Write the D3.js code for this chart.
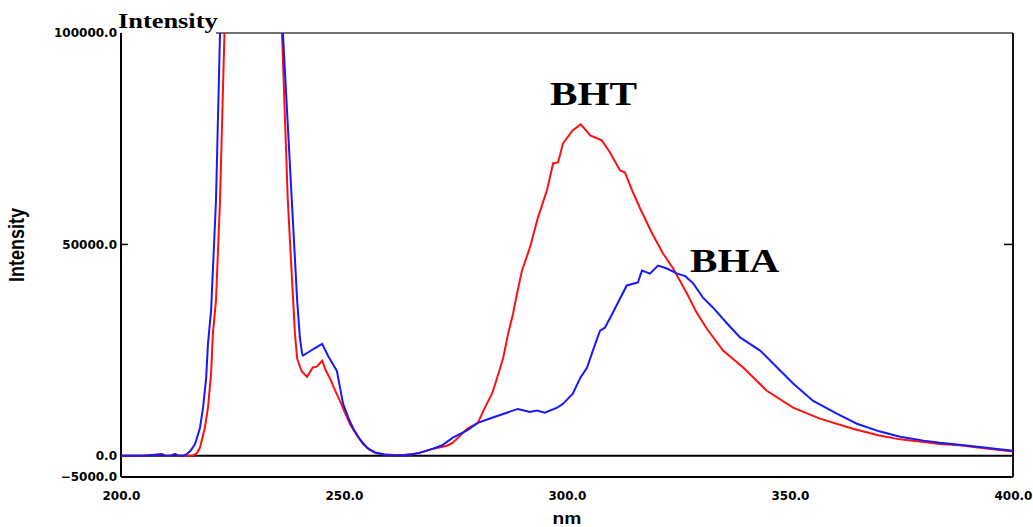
<!DOCTYPE html>
<html>
<head>
<meta charset="utf-8">
<script src="https://cdn.jsdelivr.net/npm/d3@7"></script>
<style>
  body { margin: 0; background: #fff; }
  svg { display: block; }
</style>
</head>
<body>
<div id="chart"></div>
<script>
// Wavelengths (nm) and intensities
const bhtNm = [200, 205, 209.2, 210, 211, 212.1, 213, 214, 215, 216, 217, 217.7, 218.8, 219.5, 220.2, 220.6, 221.3, 222.2, 223.2, 229.5,
  236.1, 237.4, 238.6, 239.0, 239.5, 240.5, 241.7, 243, 243.9, 245.1, 246.0, 246.9, 248, 249.1, 250.2, 251.3, 252.8, 254.3, 255.6, 257,
  259, 261.4, 263.5, 265.5, 267, 270, 273.1, 274.4, 277.6, 280, 281.6, 283.2, 284.5, 285.7, 286.8, 287.9, 288.8, 289.9, 291.7, 293.5,
  295.5, 296.9, 298, 299.1, 301.3, 303.1, 305.2, 307.8, 309.6, 311.9, 313, 314.6, 316.4, 319.1, 321.5, 323.8, 326.9, 329, 331.4, 335, 339.5,
  344.8, 350.7, 356.7, 364.1, 370, 374.7, 380, 383.6, 388, 395, 400];
const bhtInt = [0, 0, 400, 0, 0, 400, 0, 0, 0, 0, 600, 1900, 6600, 11400, 19400, 28900, 36700, 60400, 100000, 300000,
  100000, 60400, 36700, 28900, 23000, 20000, 18700, 20900, 21100, 22500, 20000, 18200, 15500, 13000, 10200, 7600, 5000, 2800, 1500, 700,
  300, 200, 250, 400, 700, 1700, 2400, 3100, 6400, 7800, 11400, 14700, 19000, 23200, 28900, 33600, 38400, 43800, 49300, 56400,
  62800, 69200, 69400, 73900, 77000, 78400, 75800, 74600, 71800, 67500, 67000, 62800, 58500, 52600, 47900, 44300, 38400, 34000, 30000, 24900, 20900,
  15400, 11400, 8800, 6400, 4800, 3900, 3300, 2800, 2500, 1600, 1000];

const bhaNm = [200, 205, 209.2, 210, 211, 212.1, 213, 214, 214.8, 215.6, 216.6, 217.7, 218.4, 219.1, 219.5, 220.2, 221.3, 222.2, 228.5,
  236.3, 238.3, 239.5, 240.1, 240.6, 240.8, 242, 243.5, 245.1, 246.5, 248.4, 249.8, 251, 252, 253.5, 255.2, 257, 259, 261.5, 264, 266.9,
  270, 272, 274.4, 277.6, 280, 283.2, 286.5, 289, 291.7, 293.3, 295, 297.8, 299.1, 301.3, 303, 304.5, 305.8, 307.4, 308.5, 310.3,
  313.4, 315.9, 316.8, 318.6, 320.4, 322.4, 324.7, 326.5, 328.3, 330.5, 332.7, 335.9, 338.8, 343.3, 347.1, 350.7, 355.2, 360.5, 365,
  370, 374.7, 380, 383.6, 388, 395, 400];
const bhaInt = [0, 0, 400, 0, 0, 400, 0, 0, 500, 1200, 2800, 6600, 11400, 18500, 26500, 34400, 60400, 100000, 300000,
  100000, 60400, 36700, 28000, 24200, 23700, 24500, 25500, 26500, 23500, 20100, 12300, 9000, 6600, 4000, 1900, 800, 300, 100, 200, 700,
  1700, 2500, 4300, 6000, 7800, 9000, 10200, 11100, 10400, 10700, 10200, 11400, 12300, 14700, 18500, 20900, 24900, 29600, 30300, 33900,
  40300, 41000, 43800, 43100, 45000, 44300, 43100, 42500, 40800, 37400, 35100, 31300, 28000, 24900, 20900, 17100, 13000, 10000, 7600,
  5800, 4500, 3600, 3100, 2600, 1800, 1200];

const xTicks = [200, 250, 300, 350, 400];
const yTicks = [-5000, 0, 50000, 100000];

const width = 1033;
const height = 527;
const plotLeft = 121, plotRight = 1013, plotTop = 33, plotBottom = 477;

const svg = d3.select('#chart')
  .append('svg')
  .attr('width', width)
  .attr('height', height);

const x = d3.scaleLinear().domain([200, 400]).range([plotLeft, plotRight]);
const y = d3.scaleLinear().domain([-5000, 100000]).range([plotBottom, plotTop]);

// Clip so the off-scale peaks stop at the frame
svg.append('clipPath').attr('id', 'plot-clip')
  .append('rect')
  .attr('x', plotLeft).attr('y', plotTop)
  .attr('width', plotRight - plotLeft).attr('height', plotBottom - plotTop);

// Axes (labels only, lines drawn below)
const fmt = d3.format('.1f');
const yAxis = svg.append('g')
  .attr('transform', `translate(${plotLeft - 1}, 0)`)
  .call(d3.axisLeft(y).tickValues(yTicks).tickSize(0).tickPadding(3).tickFormat(fmt));
const xAxis = svg.append('g')
  .attr('transform', `translate(0, ${plotBottom})`)
  .call(d3.axisBottom(x).tickValues(xTicks).tickSize(0).tickPadding(14).tickFormat(fmt));

[yAxis, xAxis].forEach((g) => {
  g.select('.domain').remove();
  g.selectAll('text')
    .attr('fill', '#000')
    .style('font-family', '"DejaVu Sans", Verdana, sans-serif')
    .style('font-weight', 'bold')
    .style('font-size', '12px');
});

// Small inward ticks at 50000
svg.append('line')
  .attr('x1', plotLeft).attr('x2', plotLeft + 7)
  .attr('y1', y(50000)).attr('y2', y(50000))
  .attr('stroke', '#000').attr('stroke-width', 1.5);
svg.append('line')
  .attr('x1', plotRight - 9).attr('x2', plotRight)
  .attr('y1', y(50000)).attr('y2', y(50000))
  .attr('stroke', '#000').attr('stroke-width', 1.5);

// Frame
svg.append('line')
  .attr('x1', 216).attr('x2', plotRight)
  .attr('y1', plotTop).attr('y2', plotTop)
  .attr('stroke', '#444').attr('stroke-width', 1.5);
svg.append('line')
  .attr('x1', plotLeft).attr('x2', plotLeft)
  .attr('y1', plotTop).attr('y2', plotBottom)
  .attr('stroke', '#000').attr('stroke-width', 2);
svg.append('line')
  .attr('x1', plotRight).attr('x2', plotRight)
  .attr('y1', plotTop).attr('y2', plotBottom)
  .attr('stroke', '#111').attr('stroke-width', 2);
svg.append('line')
  .attr('x1', plotLeft).attr('x2', plotRight)
  .attr('y1', plotBottom).attr('y2', plotBottom)
  .attr('stroke', '#000').attr('stroke-width', 2);
// Zero line
svg.append('line')
  .attr('x1', plotLeft).attr('x2', plotRight)
  .attr('y1', y(0)).attr('y2', y(0))
  .attr('stroke', '#000').attr('stroke-width', 2);

// Spectra
const line = d3.line()
  .x((d) => x(d[0]))
  .y((d) => y(d[1]));

const plot = svg.append('g').attr('clip-path', 'url(#plot-clip)');
plot.append('path')
  .datum(d3.zip(bhtNm, bhtInt))
  .attr('fill', 'none')
  .attr('stroke', '#ff1010')
  .attr('stroke-width', 2)
  .attr('d', line);
plot.append('path')
  .datum(d3.zip(bhaNm, bhaInt))
  .attr('fill', 'none')
  .attr('stroke', '#1818ff')
  .attr('stroke-width', 2)
  .attr('d', line);

// Titles
svg.append('text')
  .attr('transform', 'translate(118, 28) scale(1.2, 1)')
  .style('font-family', '"Liberation Serif", "Times New Roman", serif')
  .style('font-weight', 'bold')
  .style('font-size', '22px')
  .text('Intensity');

svg.append('text')
  .attr('transform', 'translate(24, 245) scale(1.2, 1) rotate(-90)')
  .attr('text-anchor', 'middle')
  .style('font-family', '"Liberation Sans", Arial, sans-serif')
  .style('font-weight', 'bold')
  .style('font-size', '18px')
  .text('Intensity');

svg.append('text')
  .attr('transform', `translate(${x(300)}, 524) scale(1.2, 1)`)
  .attr('text-anchor', 'middle')
  .style('font-family', '"Liberation Sans", Arial, sans-serif')
  .style('font-weight', 'bold')
  .style('font-size', '16px')
  .text('nm');

// Series labels
svg.append('text')
  .attr('transform', 'translate(550, 105) scale(1.25, 1)')
  .style('font-family', '"Liberation Serif", "Times New Roman", serif')
  .style('font-weight', 'bold')
  .style('font-size', '33px')
  .text('BHT');

svg.append('text')
  .attr('transform', 'translate(690, 272) scale(1.25, 1)')
  .style('font-family', '"Liberation Serif", "Times New Roman", serif')
  .style('font-weight', 'bold')
  .style('font-size', '33px')
  .text('BHA');
</script>
</body>
</html>
